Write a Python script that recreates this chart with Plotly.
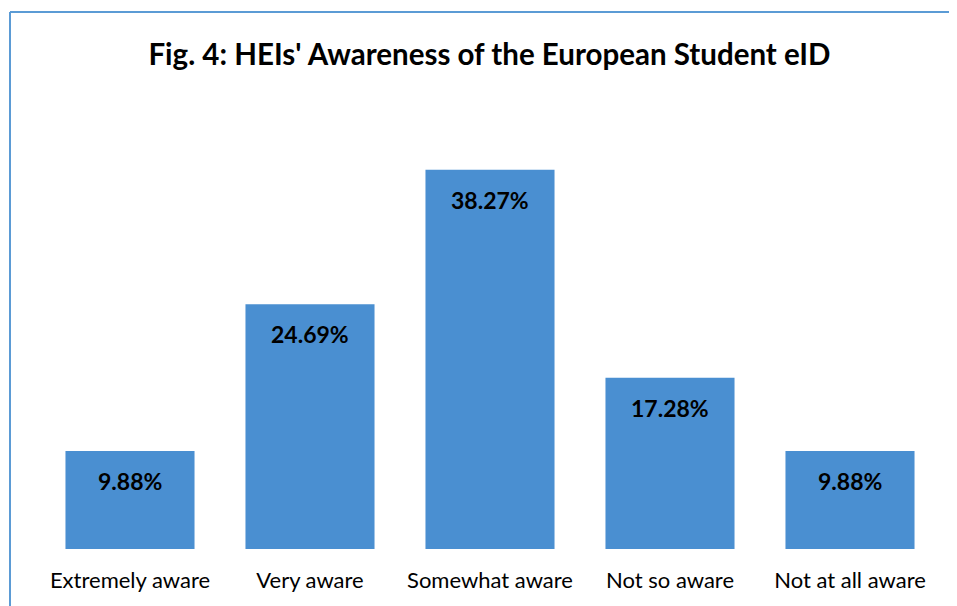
import plotly.graph_objects as go

categories = ["Extremely aware", "Very aware", "Somewhat aware", "Not so aware", "Not at all aware"]
values = [9.88, 24.69, 38.27, 17.28, 9.88]
labels = ["9.88%", "24.69%", "38.27%", "17.28%", "9.88%"]
title_text = "Fig. 4: HEIs' Awareness of the European Student eID"

W, H = 949, 598
L, R, T, B = 32, 17, 95, 57
pw = W - L - R
ph = H - T - B

fig = go.Figure()
fig.add_trace(go.Bar(
    x=categories, y=values,
    marker=dict(color="#4A8FD1", line=dict(width=0)),
    hoverinfo="x+y",
))

for c, v, t in zip(categories, values, labels):
    fig.add_annotation(x=c, y=v, text="<b>" + t + "</b>", showarrow=False,
                       yshift=-30, font=dict(family="Lato", size=23, color="#000000"))

border = "#5B9BD5"
bx = (2 - L) / pw
by = (H - B - 4) / ph
fig.add_shape(type="line", xref="paper", yref="paper", x0=bx, x1=1.05,
              y0=by, y1=by, line=dict(color=border, width=2))
fig.add_shape(type="line", xref="paper", yref="paper", x0=bx, x1=bx,
              y0=-0.2, y1=by, line=dict(color=border, width=2))

fig.update_layout(
    width=W, height=H,
    margin=dict(l=L, r=R, t=T, b=B),
    paper_bgcolor="white", plot_bgcolor="white",
    bargap=0.283,
    showlegend=False,
    title=dict(text="<b>" + title_text + "</b>", x=481.5 / W, xanchor="center", y=1 - 47 / H, yanchor="middle",
               font=dict(family="Lato", size=29.5, color="#000000")),
    xaxis=dict(showline=False, showgrid=False, zeroline=False, ticks="",
               tickfont=dict(family="Lato", size=22, color="#000000"),
               ticklabelstandoff=16),
    yaxis=dict(range=[0, 45], visible=False, showgrid=False, zeroline=False),
)

fig.write_html("out.html")
